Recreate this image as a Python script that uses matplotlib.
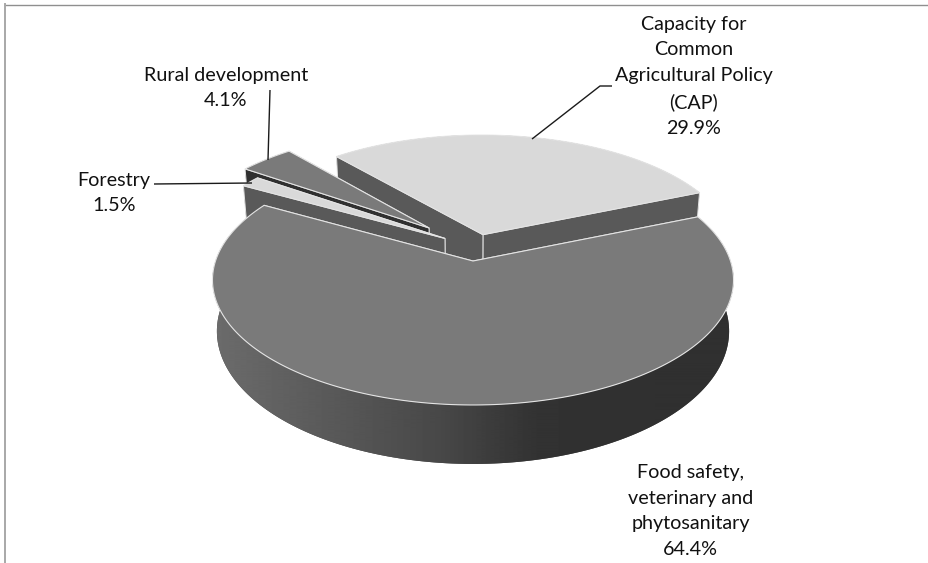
import numpy as np
from matplotlib import pyplot as plt
from matplotlib.patches import Polygon

# clockwise from the right-hand edge of the big slice
labels = ['Food safety,\nveterinary and\nphytosanitary', 'Forestry', 'Rural development',
          'Capacity for\nCommon\nAgricultural Policy\n(CAP)']
shares = [64.4, 1.5, 4.1, 29.9]

top_colors = ['#7a7a7a', '#d9d9d9', '#7a7a7a', '#d9d9d9']
wall_colors = ['#4a4a4a', '#595959', '#303030', '#595959']
explode = [(0, 0), (-0.112, 0.19), (-0.178, 0.282), (0.04, 0.223)]
draw_order = [3, 2, 1, 0]
label_pos = [(690.5, 511), (114, 193), (226, 88), (694, 76.5)]
leaders = [
    [(154, 184), (252, 183)],
    [(270, 90), (268, 160)],
    [(612, 86), (600, 86), (532, 139)],
]

# perspective of the pie plane, in pixels
X0, Y0 = 473, 261
A, B, K = 122.1, 257.5, 0.152
DEPTH = 50
SHRINK = 0.017
START = 22.5
EDGE = '#e4e4e4'


def project(u, v, z=0.0):
    d = 1 + K * v
    x = X0 + (1 - SHRINK * z) * B * u / d
    y = Y0 - A * v / d + z * DEPTH / d
    return np.column_stack([x, y])


def arc(a0, a1, off, z=0.0):
    t = np.radians(np.linspace(a0, a1, 200))
    return project(np.cos(t) + off[0], np.sin(t) + off[1], z)


def point(a, off, z=0.0):
    return arc(a, a, off, z)[:1]


fig = plt.figure(figsize=(9.29, 5.63), dpi=100)
ax = fig.add_axes([0, 0, 1, 1])
ax.set_axis_off()

# slice angles, going clockwise through the bottom of the pie
angles = []
a = START
for s in shares:
    angles.append((a, a - s * 3.6))
    a -= s * 3.6

z = 2
for i in draw_order:
    a0, a1 = angles[i]
    off = explode[i]
    apex = project(np.array([off[0]]), np.array([off[1]]))
    apex_low = project(np.array([off[0]]), np.array([off[1]]), 1.0)

    # outer wall
    outer = np.vstack([arc(a0, a1, off), arc(a1, a0, off, 1.0)])
    patch = Polygon(outer, fc=wall_colors[i], ec='none', zorder=z)
    ax.add_patch(patch)
    z += 1
    if i == 0:
        xs = np.arange(205, 745)
        greys = np.interp(xs, [213, 300, 440, 480, 540, 733], [108, 94, 72, 63, 50, 48])
        im = ax.imshow(greys[None, :], cmap='gray', vmin=0, vmax=255, aspect='auto',
                       extent=(205, 745, 480, 270), zorder=z)
        im.set_clip_path(patch)
        z += 1

    # radial walls, the one nearest the viewer last
    for end in (a1, a0):
        wall = np.vstack([apex, point(end, off), point(end, off, 1.0), apex_low])
        ax.add_patch(Polygon(wall, fc=wall_colors[i], ec=EDGE, lw=0.7, zorder=z))
        z += 1

    # top face
    top = np.vstack([apex, arc(a0, a1, off)])
    ax.add_patch(Polygon(top, fc=top_colors[i], ec=EDGE, lw=0.8, zorder=z))
    z += 1

ax.set_xlim(0, 929)
ax.set_ylim(563, 0)

for pts in leaders:
    ax.plot(*zip(*pts), color='#1a1a1a', lw=1.0, zorder=50, solid_capstyle='butt')

for name, s, (x, y) in zip(labels, shares, label_pos):
    ax.text(x, y, '{}\n{}%'.format(name, s), ha='center', va='center', family='Lato',
            fontsize=14.2, color='#111111', linespacing=1.63, zorder=60)

# picture frame, cut off on the right and at the bottom
ax.plot([5, 929], [4.5, 4.5], color='#8f8f8f', lw=1.0, zorder=1)
ax.plot([5, 5], [4, 563], color='#a8a8a8', lw=1.4, zorder=1)

plt.savefig('out.png', dpi=100)
